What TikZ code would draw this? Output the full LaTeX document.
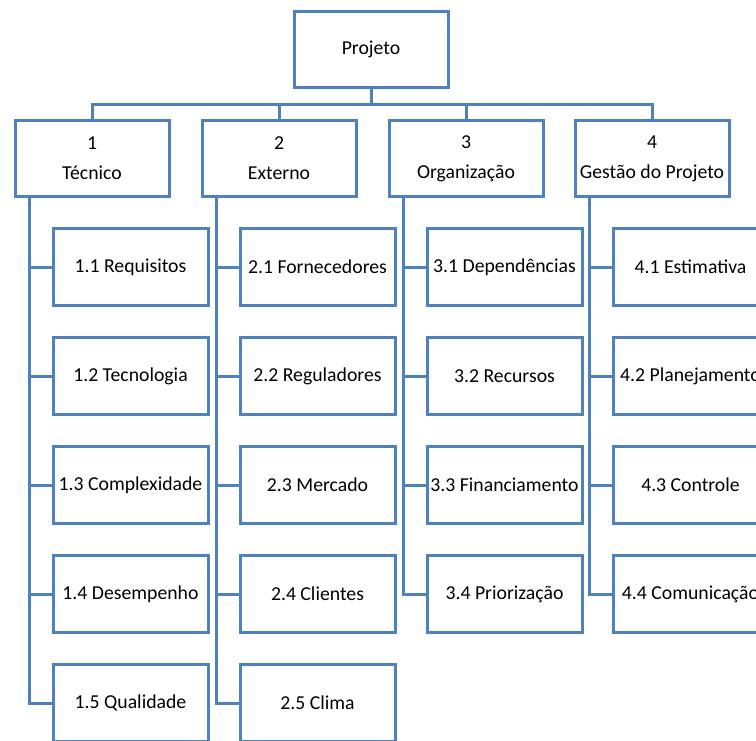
\documentclass[tikz,border=0pt]{standalone}
\usepackage{fontspec}
\setmainfont{Carlito}
\definecolor{boxblue}{RGB}{79,129,189}
\begin{document}
\begin{tikzpicture}[x=0.75pt,y=-0.75pt,
  box/.style={draw=boxblue, line width=2.25pt, fill=white, inner sep=0pt,
    align=center, font=\fontsize{14.8}{22.5}\selectfont},
  topbox/.style={box, minimum width=115.5pt, minimum height=57pt},
  kid/.style={box, minimum width=116.25pt, minimum height=57.75pt},
  link/.style={draw=boxblue, line width=2.25pt}]
\useasboundingbox (0,0) rectangle (756,740);
\clip (0,0) rectangle (756,740);
\node[topbox] (p) at (371,49.5) {Projeto};
\node[topbox] (t1) at (92,158.5) {1\\Técnico};
\node[topbox] (t2) at (279,158.5) {2\\Externo};
\node[topbox] (t3) at (466,158.5) {3\\Organização};
\node[topbox] (t4) at (652,158.5) {4\\Gestão do Projeto};
\coordinate (bus) at (0,104);
\draw[link] (p.south) -- (p.south |- bus);
\draw[link] (t1.north) |- (t4.north |- bus) -- (t4.north);
\draw[link] (t2.north) -- (t2.north |- bus);
\draw[link] (t3.north) -- (t3.north |- bus);
% column 1
\node[kid] (c11) at (130.5,267) {1.1 Requisitos};
\node[kid] (c12) at (130.5,376) {1.2 Tecnologia};
\node[kid] (c13) at (130.5,485) {1.3 Complexidade};
\node[kid] (c14) at (130.5,594) {1.4 Desempenho};
\node[kid] (c15) at (130.5,703) {1.5 Qualidade};
% column 2
\node[kid] (c21) at (317.5,267) {2.1 Fornecedores};
\node[kid] (c22) at (317.5,376) {2.2 Reguladores};
\node[kid] (c23) at (317.5,485) {2.3 Mercado};
\node[kid] (c24) at (317.5,594) {2.4 Clientes};
\node[kid] (c25) at (317.5,703) {2.5 Clima};
% column 3
\node[kid] (c31) at (504.5,267) {3.1 Dependências};
\node[kid] (c32) at (504.5,376) {3.2 Recursos};
\node[kid] (c33) at (504.5,485) {3.3 Financiamento};
\node[kid] (c34) at (504.5,594) {3.4 Priorização};
% column 4
\node[kid] (c41) at (690.5,267) {4.1 Estimativa};
\node[kid] (c42) at (690.5,376) {4.2 Planejamento};
\node[kid] (c43) at (690.5,485) {4.3 Controle};
\node[kid] (c44) at (690.5,594) {4.4 Comunicação};
% spines
\coordinate (s1) at ([xshift=12pt]t1.south west);
\coordinate (s2) at ([xshift=12pt]t2.south west);
\coordinate (s3) at ([xshift=12pt]t3.south west);
\coordinate (s4) at ([xshift=12pt]t4.south west);
\draw[link] (s1) |- (c15.west);
\foreach \k in {1,2,3,4} \draw[link] (s1 |- c1\k.west) -- (c1\k.west);
\draw[link] (s2) |- (c25.west);
\foreach \k in {1,2,3,4} \draw[link] (s2 |- c2\k.west) -- (c2\k.west);
\draw[link] (s3) |- (c34.west);
\foreach \k in {1,2,3} \draw[link] (s3 |- c3\k.west) -- (c3\k.west);
\draw[link] (s4) |- (c44.west);
\foreach \k in {1,2,3} \draw[link] (s4 |- c4\k.west) -- (c4\k.west);
\end{tikzpicture}
\end{document}
